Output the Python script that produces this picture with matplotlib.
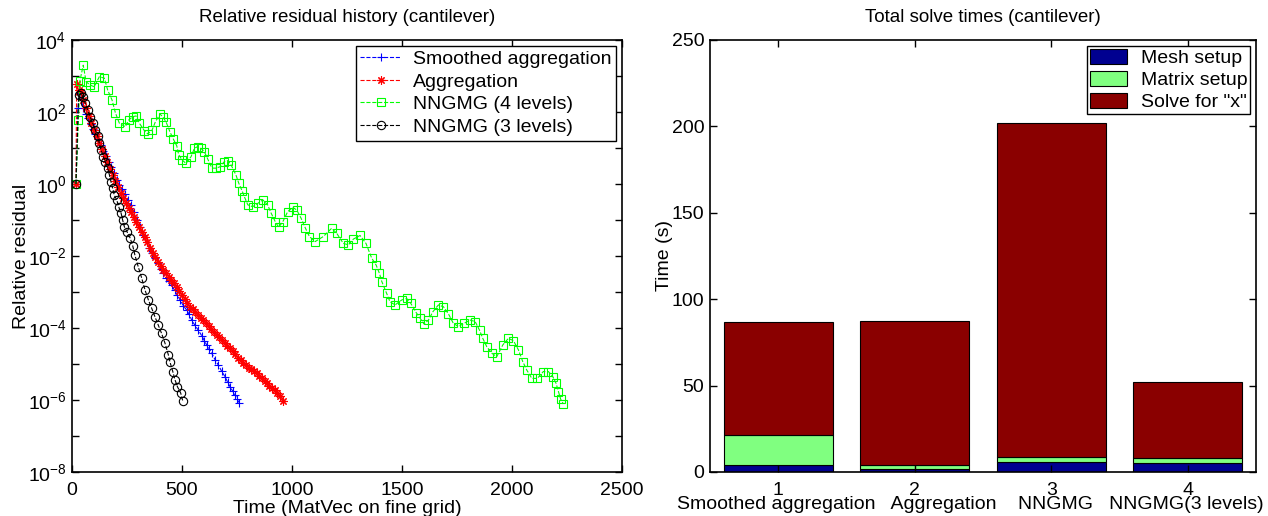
import numpy as np
import matplotlib
matplotlib.use('Agg')
import matplotlib.pyplot as plt
from matplotlib.ticker import FixedLocator, FuncFormatter

plt.rcParams['font.family'] = ['Liberation Sans', 'DejaVu Sans']
plt.rcParams['mathtext.fontset'] = 'custom'
plt.rcParams['mathtext.rm'] = 'Liberation Sans'
plt.rcParams['mathtext.it'] = 'Liberation Sans:italic'

# Residual histories: work (MatVecs on fine grid) and log10 of the relative residual
sa_work = [18, 27, 33, 42, 51, 62, 73, 84, 95, 106, 118, 130, 142, 154, 166, 178, 190,
           203, 215, 227, 240, 253, 266, 280, 294, 309, 324, 339, 352, 365, 377, 390,
           403, 415, 428, 440, 453, 466, 478, 491, 506, 521, 532, 544, 559, 574, 590,
           602, 612, 624, 635, 650, 665, 680, 695, 707, 718, 730, 741, 751, 760]
sa_logres = [0, 2.1, 2.52, 2.35, 2.1, 1.95, 1.82, 1.66, 1.52, 1.40, 1.24, 1.09, 0.93,
             0.78, 0.62, 0.47, 0.30, 0.11, -0.02, -0.15, -0.29, -0.44, -0.58, -0.79,
             -1.0, -1.2, -1.42, -1.6, -1.78, -1.93, -2.06, -2.2, -2.35, -2.48, -2.6,
             -2.7, -2.81, -2.95, -3.08, -3.22, -3.38, -3.5, -3.62, -3.78, -3.93, -4.06,
             -4.22, -4.36, -4.47, -4.58, -4.7, -4.88, -5.03, -5.2, -5.35, -5.5, -5.63,
             -5.75, -5.86, -5.98, -6.09]

agg_work = [18, 21, 30, 41, 52, 64, 76, 88, 100, 112, 124, 136, 148, 160, 172, 185,
            197, 209, 221, 233, 245, 257, 269, 281, 293, 306, 318, 330, 342, 355, 367,
            379, 391, 403, 415, 427, 439, 452, 464, 476, 488, 500, 512, 524, 536, 548,
            560, 572, 585, 597, 609, 621, 633, 645, 658, 670, 682, 694, 706, 718, 730,
            742, 754, 766, 779, 791, 803, 815, 827, 839, 851, 863, 875, 885, 897, 909,
            921, 933, 945, 960]
agg_logres = [0, 2.78, 2.62, 2.56, 2.33, 2.1, 1.9, 1.7, 1.5, 1.32, 1.13, 0.96, 0.78,
              0.6, 0.43, 0.25, 0.08, -0.09, -0.25, -0.4, -0.54, -0.67, -0.79, -0.92,
              -1.05, -1.19, -1.33, -1.47, -1.62, -1.79, -1.92, -2.04, -2.16, -2.28,
              -2.39, -2.48, -2.57, -2.66, -2.76, -2.85, -2.97, -3.09, -3.2, -3.31,
              -3.41, -3.48, -3.55, -3.63, -3.71, -3.78, -3.86, -3.95, -4.04, -4.12,
              -4.19, -4.26, -4.33, -4.41, -4.49, -4.56, -4.64, -4.73, -4.82, -4.9,
              -4.98, -5.04, -5.1, -5.15, -5.2, -5.26, -5.33, -5.4, -5.47, -5.54, -5.6,
              -5.66, -5.72, -5.8, -5.9, -6.02]

nn4_work = [18, 29, 36, 51, 64, 82, 101, 124, 147, 162, 182, 197, 215, 242, 258, 276,
            291, 306, 329, 344, 364, 379, 400, 412, 427, 445, 461, 476, 485, 500, 518,
            541, 556, 571, 586, 601, 617, 636, 655, 673, 692, 708, 723, 745, 758, 773,
            783, 799, 821, 844, 867, 889, 905, 924, 939, 958, 980, 1003, 1021, 1041,
            1061, 1079, 1105, 1142, 1180, 1203, 1233, 1256, 1279, 1309, 1336, 1362,
            1382, 1397, 1408, 1430, 1445, 1468, 1499, 1521, 1539, 1564, 1582, 1600,
            1620, 1640, 1665, 1688, 1711, 1733, 1756, 1782, 1809, 1832, 1852, 1867,
            1885, 1908, 1930, 1958, 1983, 2006, 2029, 2049, 2067, 2090, 2115, 2142,
            2165, 2185, 2200, 2211, 2221, 2233]
nn4_logres = [0, 1.78, 2.87, 3.3, 2.84, 2.75, 2.70, 2.98, 2.94, 2.61, 2.33, 1.98, 1.69,
              1.59, 1.78, 1.87, 1.89, 1.69, 1.48, 1.39, 1.5, 1.73, 1.94, 1.87, 1.73,
              1.45, 1.24, 1.06, 0.81, 0.67, 0.57, 0.76, 0.99, 1.04, 0.99, 0.9, 0.69,
              0.44, 0.44, 0.48, 0.62, 0.65, 0.53, 0.25, 0.02, -0.19, -0.35, -0.58,
              -0.63, -0.54, -0.44, -0.58, -0.81, -1.05, -1.2, -1.05, -0.77, -0.65,
              -0.72, -0.95, -1.23, -1.46, -1.6, -1.46, -1.23, -1.37, -1.65, -1.69,
              -1.53, -1.43, -1.65, -2.06, -2.25, -2.48, -2.71, -3.04, -3.27, -3.36,
              -3.22, -3.18, -3.31, -3.57, -3.73, -3.89, -3.78, -3.55, -3.36, -3.41,
              -3.61, -3.87, -3.96, -3.87, -3.78, -3.82, -4.06, -4.29, -4.52, -4.7,
              -4.8, -4.47, -4.29, -4.35, -4.61, -4.94, -5.17, -5.4, -5.4, -5.21, -5.21,
              -5.35, -5.54, -5.77, -5.98, -6.11]

nn3_work = [18, 30, 41, 51, 60, 71, 82, 94, 106, 117, 124, 132, 142, 151, 162, 170,
            177, 185, 192, 203, 212, 223, 230, 238, 250, 264, 276, 286, 301, 317, 332,
            347, 362, 377, 392, 407, 423, 438, 445, 458, 468, 479, 494, 503]
nn3_logres = [0, 2.47, 2.52, 2.41, 2.24, 2.06, 1.87, 1.69, 1.5, 1.33, 1.13, 0.94, 0.76,
              0.62, 0.44, 0.25, 0.06, -0.12, -0.31, -0.44, -0.63, -0.81, -1.0, -1.19,
              -1.33, -1.5, -1.72, -1.98, -2.3, -2.62, -2.95, -3.22, -3.45, -3.69,
              -3.92, -4.15, -4.43, -4.75, -4.94, -5.21, -5.44, -5.63, -5.81, -6.02]

# Solve time breakdown (seconds)
methods = ['Smoothed aggregation', 'Aggregation', 'NNGMG', 'NNGMG(3 levels)']
mesh_setup = [3.8, 1.5, 5.6, 5.4]
matrix_setup = [17.4, 2.7, 3.2, 2.9]
solve_x = [65.5, 83.3, 193.2, 43.6]

FS = 14

fig = plt.figure(figsize=(12.68, 5.16), dpi=100)
ax1 = fig.add_axes([0.0568, 0.0853, 0.4338, 0.8372])
ax2 = fig.add_axes([0.5599, 0.0853, 0.4306, 0.8372])

# asterisk marker: four strokes through the centre
star = (8, 2, 0)
series = [
    (sa_work, sa_logres, 'b', '+', 'Smoothed aggregation'),
    (agg_work, agg_logres, 'r', star, 'Aggregation'),
    (nn4_work, nn4_logres, '#00ff00', 's', 'NNGMG (4 levels)'),
    (nn3_work, nn3_logres, 'k', 'o', 'NNGMG (3 levels)'),
]
for w, lr, c, m, lab in series:
    ax1.semilogy(w, 10.0 ** np.array(lr), linestyle='--', color=c, marker=m,
                 markersize=6, markerfacecolor='none', markeredgecolor=c,
                 markeredgewidth=0.8, linewidth=0.8, label=lab)

ax1.set_xlim(0, 2500)
ax1.set_ylim(1e-8, 1e4)
ax1.set_xticks([0, 500, 1000, 1500, 2000, 2500])
ax1.yaxis.set_major_locator(FixedLocator([10.0 ** k for k in range(-8, 5)]))
ax1.yaxis.set_minor_locator(FixedLocator([]))
ax1.yaxis.set_major_formatter(FuncFormatter(
    lambda v, p: '$10^{%d}$' % round(np.log10(v)) if round(np.log10(v)) % 2 == 0 else ''))
ax1.set_xlabel('Time (MatVec on fine grid)', fontsize=FS, labelpad=1)
ax1.set_ylabel('Relative residual', fontsize=FS)
ax1.yaxis.set_label_coords(-0.076, 0.5)
ax1.set_title('Relative residual history (cantilever)', fontsize=FS - 0.5, pad=13)
leg1 = ax1.legend(loc='upper right', fontsize=FS, numpoints=1, fancybox=False,
                  edgecolor='k', framealpha=1, labelspacing=0.25, borderpad=0.25,
                  handlelength=2.1, handletextpad=0.6, borderaxespad=0.3)
leg1.get_frame().set_linewidth(1.0)

pos = np.arange(1, len(methods) + 1)
mesh = np.array(mesh_setup)
matrix = np.array(matrix_setup)
ax2.bar(pos, mesh, 0.8, color='#000090', edgecolor='k', linewidth=0.8,
        label='Mesh setup')
ax2.bar(pos, matrix, 0.8, bottom=mesh, color='#80ff80', edgecolor='k',
        linewidth=0.8, label='Matrix setup')
ax2.bar(pos, solve_x, 0.8, bottom=mesh + matrix, color='#8a0000', edgecolor='k',
        linewidth=0.8, label='Solve for "x"')
ax2.set_xlim(0.5, 4.5)
ax2.set_ylim(0, 250)
ax2.set_xticks(pos)
ax2.set_xlabel('   '.join(methods[:2]) + '    ' + '   '.join(methods[2:]),
               fontsize=FS)
ax2.xaxis.set_label_coords(0.476, -0.056)
ax2.set_ylabel('Time (s)', fontsize=FS)
ax2.yaxis.set_label_coords(-0.068, 0.5)
ax2.set_title('Total solve times (cantilever)', fontsize=FS - 0.5, pad=13)
leg2 = ax2.legend(loc='upper right', fontsize=FS, fancybox=False, edgecolor='k',
                  framealpha=1, labelspacing=0.2, borderpad=0.15,
                  handlelength=1.9, handleheight=0.8, handletextpad=0.7,
                  borderaxespad=0.3)
leg2.get_frame().set_linewidth(1.0)

for ax in (ax1, ax2):
    ax.tick_params(direction='in', top=True, right=True, length=5, width=1,
                   labelsize=FS, pad=4)
    ax.tick_params(axis='x', pad=7)
    ax.tick_params(which='minor', length=0)
    for s in ax.spines.values():
        s.set_linewidth(1.2)

fig.savefig('out.png', dpi=100)
